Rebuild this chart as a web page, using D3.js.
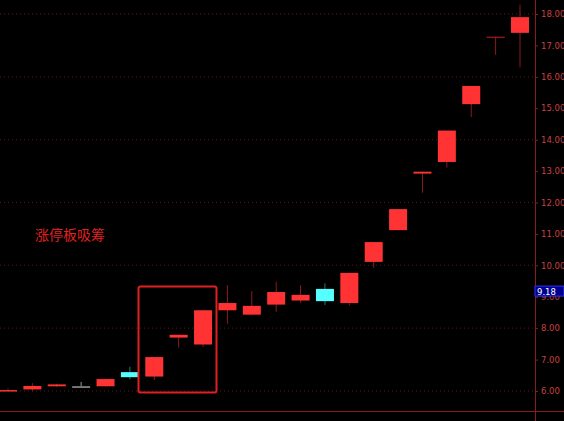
<!DOCTYPE html><html><head><meta charset="utf-8"><script src="https://cdn.jsdelivr.net/npm/d3@7"></script>
<style>body{margin:0;background:#000}</style></head><body><svg id="c" width="564" height="421"></svg><script>
const opens  =[6.03,6.05,6.15,6.15,6.15,6.60,6.46,7.70,7.48,8.57,8.43,8.75,8.88,9.25,8.80,10.11,11.12,12.92,13.29,15.13,17.28,17.40];
const closes =[6.03,6.16,6.21,6.15,6.38,6.44,7.08,7.79,8.57,8.80,8.71,9.15,9.06,8.86,9.76,10.74,11.79,12.98,14.29,15.71,17.28,17.90];
const highs  =[6.08,6.25,6.23,6.29,6.38,6.77,7.08,7.79,8.57,9.37,9.18,9.48,9.37,9.43,9.76,10.74,11.79,12.98,14.29,15.71,17.28,18.30];
const lows   =[6.00,6.00,6.13,6.15,6.15,6.37,6.35,7.38,7.41,8.14,8.43,8.52,8.81,8.74,8.72,9.92,11.12,12.31,13.11,14.72,16.70,16.30];
const ticks=[6,7,8,9,10,11,12,13,14,15,16,17,18];
const gridTicks=[6,8,10,12,14,16,18];
const lastPrice=9.18;
const svg=d3.select("#c");
const x=d3.scaleLinear().domain([0,21]).range([8,520]);
const y=d3.scaleLinear().domain([6,18]).range([391,14]);
const axX=535, red="#ff3333", dred="#8b1a1a";
svg.append("rect").attr("width",564).attr("height",421).attr("fill","#000");
svg.selectAll(".g").data(gridTicks).enter().append("line").attr("x1",0).attr("x2",axX).attr("y1",d=>y(d)).attr("y2",d=>y(d)).attr("stroke","#5a1818").attr("stroke-dasharray","1,3");
svg.append("line").attr("x1",0).attr("x2",564).attr("y1",411.5).attr("y2",411.5).attr("stroke","#8b1a1a");
svg.append("line").attr("x1",axX+.5).attr("x2",axX+.5).attr("y1",0).attr("y2",421).attr("stroke","#8b1a1a");
const ax=svg.append("g").attr("transform",`translate(${axX},0)`).call(d3.axisRight(y).tickValues(ticks).tickSize(3).tickFormat(d3.format(".2f")));
ax.select(".domain").remove();
ax.selectAll("line").attr("stroke","#8b1a1a");
ax.selectAll("text").attr("fill","#c84040").attr("font-size",8.5).attr("font-family","DejaVu Sans").attr("x",6);
const lp=svg.append("g").attr("transform",`translate(${axX},${y(lastPrice)-5})`);
lp.append("rect").attr("width",29).attr("height",10).attr("fill","#00008b").attr("stroke","#3030ff");
lp.append("text").attr("x",2).attr("y",8.5).attr("fill","#ffffff").attr("font-size",8.5).attr("font-family","DejaVu Sans").text(lastPrice.toFixed(2));
const idx=d3.range(opens.length);
const col=i=>closes[i]>opens[i]?red:(closes[i]<opens[i]?"#55ffff":(i===3?"#999":(i===20?dred:red)));
const wcol=i=>closes[i]<opens[i]?"#227777":(i===3?"#999":dred);
svg.selectAll(".w").data(idx).enter().append("line").attr("x1",i=>x(i)).attr("x2",i=>x(i)).attr("y1",i=>y(highs[i])).attr("y2",i=>y(lows[i])).attr("stroke",wcol);
svg.selectAll(".b").data(idx).enter().append("rect").attr("x",i=>x(i)-9).attr("width",18)
 .attr("y",i=>y(Math.max(opens[i],closes[i]))).attr("height",i=>Math.max(1.5,Math.abs(y(opens[i])-y(closes[i])))).attr("fill",col);
svg.append("rect").attr("x",138.5).attr("y",286.5).attr("width",78).attr("height",106).attr("rx",2).attr("fill","none").attr("stroke","#e02020").attr("stroke-width",2);
svg.append("text").attr("x",35).attr("y",240).attr("fill","#e02020").attr("font-size",14).attr("font-family","Noto Sans CJK SC").text("涨停板吸筹");
</script></body></html>
